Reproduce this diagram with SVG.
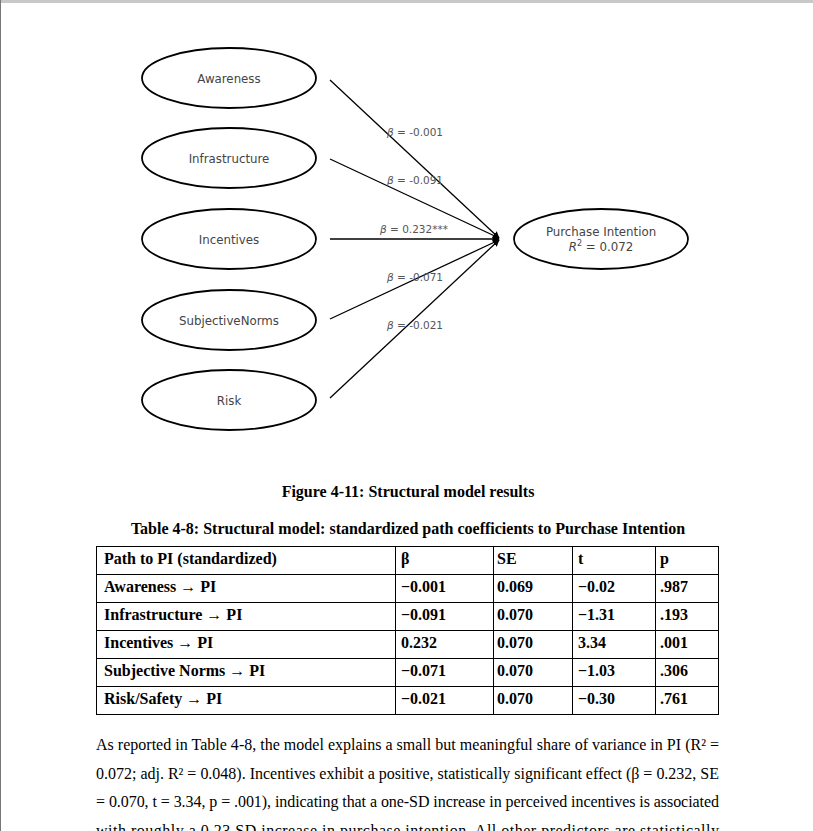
<svg xmlns="http://www.w3.org/2000/svg" width="813" height="831" viewBox="0 0 813 831">
<style>
.node ellipse{fill:#fff;stroke:#000;stroke-width:1.8}
.nt{font-family:"DejaVu Sans",sans-serif;font-size:11.8px;fill:#444;text-anchor:middle}
.el{font-family:"DejaVu Sans",sans-serif;font-size:10.5px;fill:#555;text-anchor:middle}
.edge{stroke:#000;stroke-width:1.3;fill:none;marker-end:url(#ah)}
.cap{font-family:"Liberation Serif","Times New Roman",serif;font-size:16px;font-weight:bold;fill:#000;text-anchor:middle}
.tc{font-family:"Liberation Serif","Times New Roman",serif;font-size:16px;font-weight:bold;fill:#000}
.tl{stroke:#000;stroke-width:1;fill:none}
.para{font-family:"Liberation Serif","Times New Roman",serif;font-size:16px;fill:#000}
</style>
<defs>
<marker id="ah" viewBox="0 0 10 10" refX="9" refY="5" markerWidth="7" markerHeight="7" markerUnits="userSpaceOnUse" orient="auto">
<path d="M0,0 L10,5 L0,10 z" fill="#000"/>
</marker>
</defs>
<rect x="0" y="0" width="813" height="831" fill="#fff"/>
<rect x="0" y="0" width="813" height="3" fill="#c8c8c8"/>
<line x1="0.5" y1="0" x2="0.5" y2="831" stroke="#777" stroke-width="1"/>

<g id="connectors">
<line class="edge" x1="330" y1="80" x2="499" y2="238"/>
<line class="edge" x1="330" y1="159" x2="499" y2="238"/>
<line class="edge" x1="330" y1="239" x2="499" y2="239"/>
<line class="edge" x1="330" y1="319" x2="499" y2="240"/>
<line class="edge" x1="330" y1="398" x2="499" y2="240"/>
<text class="el" x="415" y="136"><tspan font-style="italic">β</tspan> = -0.001</text>
<text class="el" x="415" y="184"><tspan font-style="italic">β</tspan> = -0.091</text>
<text class="el" x="414" y="233"><tspan font-style="italic">β</tspan> = 0.232***</text>
<text class="el" x="415" y="281"><tspan font-style="italic">β</tspan> = -0.071</text>
<text class="el" x="415" y="329"><tspan font-style="italic">β</tspan> = -0.021</text>
</g>

<g id="awareness" class="node"><ellipse cx="229" cy="78" rx="87" ry="30"/><text class="nt" x="229" y="83">Awareness</text></g>
<g id="infrastructure" class="node"><ellipse cx="229" cy="158" rx="87" ry="30"/><text class="nt" x="229" y="163">Infrastructure</text></g>
<g id="incentives" class="node"><ellipse cx="229" cy="239" rx="87" ry="30"/><text class="nt" x="229" y="244">Incentives</text></g>
<g id="subjectivenorms" class="node"><ellipse cx="229" cy="320" rx="87" ry="30"/><text class="nt" x="229" y="325">SubjectiveNorms</text></g>
<g id="risk" class="node"><ellipse cx="229" cy="400" rx="87" ry="30"/><text class="nt" x="229" y="405">Risk</text></g>
<g id="purchaseintention" class="node"><ellipse cx="601" cy="239" rx="87" ry="30"/>
<text class="nt" x="601" y="236">Purchase Intention</text>
<text class="nt" x="601" y="251"><tspan font-style="italic">R</tspan><tspan font-size="8" dy="-5">2</tspan><tspan dy="5"> = 0.072</tspan></text>
</g>

<text class="cap" x="408" y="497">Figure 4-11: Structural model results</text>
<text class="cap" x="408" y="534">Table 4-8: Structural model: standardized path coefficients to Purchase Intention</text>

<g id="table">
<rect class="tl" x="96.5" y="546.5" width="622" height="168"/>
<line class="tl" x1="96" y1="574.5" x2="719" y2="574.5"/>
<line class="tl" x1="96" y1="602.5" x2="719" y2="602.5"/>
<line class="tl" x1="96" y1="630.5" x2="719" y2="630.5"/>
<line class="tl" x1="96" y1="658.5" x2="719" y2="658.5"/>
<line class="tl" x1="96" y1="686.5" x2="719" y2="686.5"/>
<line class="tl" x1="395.5" y1="546" x2="395.5" y2="715"/>
<line class="tl" x1="493.5" y1="546" x2="493.5" y2="715"/>
<line class="tl" x1="572.5" y1="546" x2="572.5" y2="715"/>
<line class="tl" x1="655.5" y1="546" x2="655.5" y2="715"/>
<text class="tc" x="104" y="564">Path to PI (standardized)</text>
<text class="tc" x="401" y="564">β</text>
<text class="tc" x="497" y="564">SE</text>
<text class="tc" x="578" y="564">t</text>
<text class="tc" x="660" y="564">p</text>
<text class="tc" x="104" y="592">Awareness → PI</text>
<text class="tc" x="401" y="592">−0.001</text>
<text class="tc" x="497" y="592">0.069</text>
<text class="tc" x="578" y="592">−0.02</text>
<text class="tc" x="660" y="592">.987</text>
<text class="tc" x="104" y="620">Infrastructure → PI</text>
<text class="tc" x="401" y="620">−0.091</text>
<text class="tc" x="497" y="620">0.070</text>
<text class="tc" x="578" y="620">−1.31</text>
<text class="tc" x="660" y="620">.193</text>
<text class="tc" x="104" y="648">Incentives → PI</text>
<text class="tc" x="401" y="648">0.232</text>
<text class="tc" x="497" y="648">0.070</text>
<text class="tc" x="578" y="648">3.34</text>
<text class="tc" x="660" y="648">.001</text>
<text class="tc" x="104" y="676">Subjective Norms → PI</text>
<text class="tc" x="401" y="676">−0.071</text>
<text class="tc" x="497" y="676">0.070</text>
<text class="tc" x="578" y="676">−1.03</text>
<text class="tc" x="660" y="676">.306</text>
<text class="tc" x="104" y="704">Risk/Safety → PI</text>
<text class="tc" x="401" y="704">−0.021</text>
<text class="tc" x="497" y="704">0.070</text>
<text class="tc" x="578" y="704">−0.30</text>
<text class="tc" x="660" y="704">.761</text>
</g>

<g id="paragraph">
<text class="para" x="96" y="750" textLength="623" lengthAdjust="spacing">As reported in Table 4-8, the model explains a small but meaningful share of variance in PI (R² =</text>
<text class="para" x="96" y="779" textLength="623" lengthAdjust="spacing">0.072; adj. R² = 0.048). Incentives exhibit a positive, statistically significant effect (β = 0.232, SE</text>
<text class="para" x="96" y="807" textLength="623" lengthAdjust="spacing">= 0.070, t = 3.34, p = .001), indicating that a one-SD increase in perceived incentives is associated</text>
<text class="para" x="96" y="836" textLength="623" lengthAdjust="spacing">with roughly a 0.23 SD increase in purchase intention. All other predictors are statistically</text>
</g>
</svg>
